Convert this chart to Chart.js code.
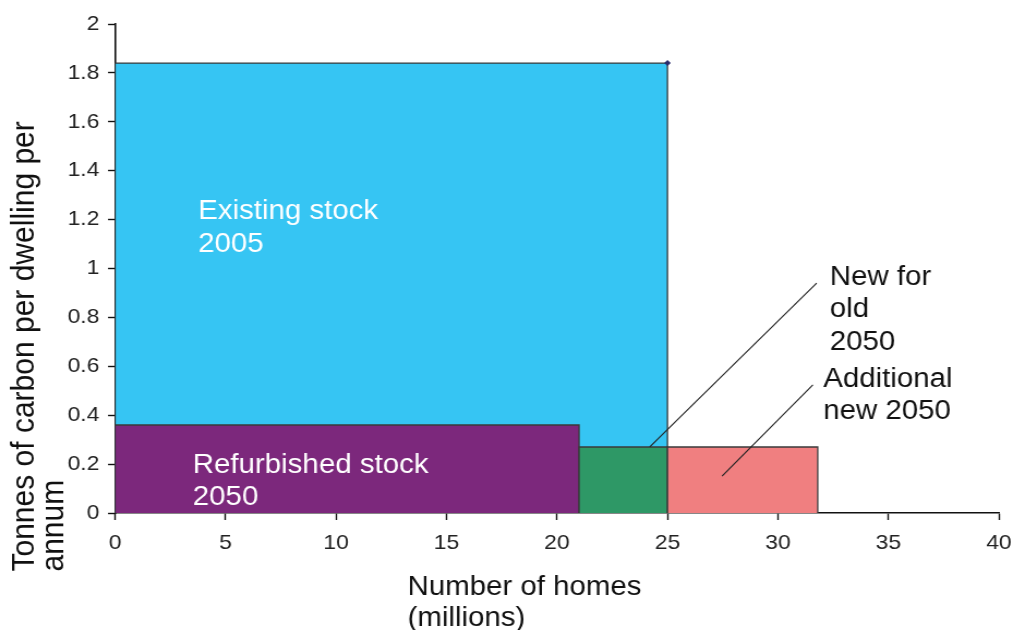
<!DOCTYPE html>
<html>
<head>
<meta charset="utf-8">
<script src="https://cdn.jsdelivr.net/npm/chart.js@4/dist/chart.umd.min.js"></script>
<style>
  html, body { margin: 0; padding: 0; background: #fff; overflow: hidden; }
  /* chart is laid out narrower and widened horizontally */
  #wrap { width: 929px; height: 630px; transform: scaleX(1.0904); transform-origin: 0 0; }
  canvas { display: block; }
</style>
</head>
<body>
<div id="wrap"><canvas id="c" width="929" height="630"></canvas></div>
<script>
// Housing stock segments: number of homes (millions) vs tonnes of carbon per dwelling per annum
const segments = ['Existing stock 2005', 'Refurbished stock 2050', 'New for old 2050', 'Additional new 2050'];
const homesFrom = [0, 0, 21, 25];
const homesTo = [25, 21, 25, 31.8];
const carbonPerDwelling = [1.84, 0.36, 0.27, 0.27];
const segmentColors = ['#36C5F3', '#7C287C', '#2E9866', '#F07F80'];
const drawOrder = [4, 3, 2, 1];

const xTicks = [0, 5, 10, 15, 20, 25, 30, 35, 40];
const yTicks = [0, 0.2, 0.4, 0.6, 0.8, 1, 1.2, 1.4, 1.6, 1.8, 2];
const yTickLabels = ['0', '0.2', '0.4', '0.6', '0.8', '1', '1.2', '1.4', '1.6', '1.8', '2'];

const FONT = '"Liberation Sans", Arial, Helvetica, sans-serif';

// Each segment is a block: left edge, top, right edge, filled down to zero
const datasets = segments.map((name, i) => ({
  label: name,
  data: [
    { x: homesFrom[i], y: 0 },
    { x: homesFrom[i], y: carbonPerDwelling[i] },
    { x: homesTo[i], y: carbonPerDwelling[i] },
    { x: homesTo[i], y: 0 }
  ],
  showLine: true,
  fill: 'origin',
  backgroundColor: segmentColors[i],
  borderColor: '#3a3a3a',
  borderWidth: 1.3,
  tension: 0,
  pointRadius: i === 0 ? [0, 0, 3, 0] : 0,
  pointStyle: 'rectRot',
  pointBackgroundColor: '#2a2c6c',
  pointBorderColor: '#2a2c6c',
  pointBorderWidth: 0,
  order: drawOrder[i]
}));

// Text labels inside / beside the blocks (data coordinates of first baseline)
const blockLabels = [
  { lines: ['Existing stock', '2005'], x: 3.76, y: 1.201, color: '#ffffff' },
  { lines: ['Refurbished stock', '2050'], x: 3.52, y: 0.164, color: '#ffffff' },
  { lines: ['New for', 'old', '2050'], x: 32.35, y: 0.933, color: '#111111' },
  { lines: ['Additional', 'new 2050'], x: 32.05, y: 0.517, color: '#111111' }
];
// Leader lines from the small blocks to their labels
const leaders = [
  { from: [24.2, 0.27], to: [31.75, 0.94] },
  { from: [27.47, 0.151], to: [31.58, 0.524] }
];

const annotations = {
  id: 'annotations',
  afterDatasetsDraw(chart) {
    const { ctx, scales: { x, y } } = chart;
    ctx.save();
    ctx.strokeStyle = '#222';
    ctx.lineWidth = 1.1;
    leaders.forEach(l => {
      ctx.beginPath();
      ctx.moveTo(x.getPixelForValue(l.from[0]), y.getPixelForValue(l.from[1]));
      ctx.lineTo(x.getPixelForValue(l.to[0]), y.getPixelForValue(l.to[1]));
      ctx.stroke();
    });
    ctx.font = '27px ' + FONT;
    ctx.textAlign = 'left';
    ctx.textBaseline = 'alphabetic';
    blockLabels.forEach(b => {
      ctx.fillStyle = b.color;
      const px = x.getPixelForValue(b.x);
      const py = y.getPixelForValue(b.y);
      b.lines.forEach((t, k) => ctx.fillText(t, px, py + k * 32.5));
    });
    ctx.restore();
  },
  afterDraw(chart) {
    const { ctx } = chart;
    ctx.save();
    ctx.fillStyle = '#111';
    ctx.textAlign = 'left';
    ctx.textBaseline = 'alphabetic';
    // x axis title
    ctx.font = '27px ' + FONT;
    ctx.fillText('Number of homes', 373.7, 594.5);
    ctx.fillText('(millions)', 373.7, 625.5);
    // y axis title, rotated
    ctx.font = '30px ' + FONT;
    ctx.translate(0, 571.5);
    ctx.rotate(-Math.PI / 2);
    ctx.fillText('Tonnes of carbon per dwelling per', 0, 30.5);
    ctx.fillText('annum', 0, 58);
    ctx.restore();
  }
};

new Chart(document.getElementById('c'), {
  type: 'scatter',
  data: { datasets },
  options: {
    responsive: false,
    animation: false,
    devicePixelRatio: 1,
    layout: { padding: { left: 0, right: 12.9, top: 24, bottom: 0 } },
    plugins: { legend: { display: false }, tooltip: { enabled: false } },
    scales: {
      x: {
        type: 'linear',
        min: 0, max: 40,
        afterBuildTicks: s => { s.ticks = xTicks.map(v => ({ value: v })); },
        afterFit: s => { s.height = 117; s.paddingLeft = 0; s.paddingRight = 0; },
        grid: { drawOnChartArea: false, drawTicks: true, tickLength: 7, tickColor: '#111', tickWidth: 1.4 },
        border: { display: true, color: '#111', width: 1.6 },
        ticks: { color: '#222', font: { family: FONT, size: 21 }, padding: 11, maxRotation: 0,
                 callback: (v, i) => String(xTicks[i]) },
        title: { display: false }
      },
      y: {
        type: 'linear',
        min: 0, max: 2,
        afterBuildTicks: s => { s.ticks = yTicks.map(v => ({ value: v })); },
        afterFit: s => { s.width = 105.5; s.paddingTop = 0; s.paddingBottom = 0; },
        grid: { drawOnChartArea: false, drawTicks: true, tickLength: 6.4, tickColor: '#111', tickWidth: 1.4 },
        border: { display: true, color: '#111', width: 1.6 },
        ticks: { color: '#222', font: { family: FONT, size: 21 }, padding: 8,
                 callback: (v, i) => yTickLabels[i] },
        title: { display: false }
      }
    }
  },
  plugins: [annotations]
});
</script>
</body>
</html>
